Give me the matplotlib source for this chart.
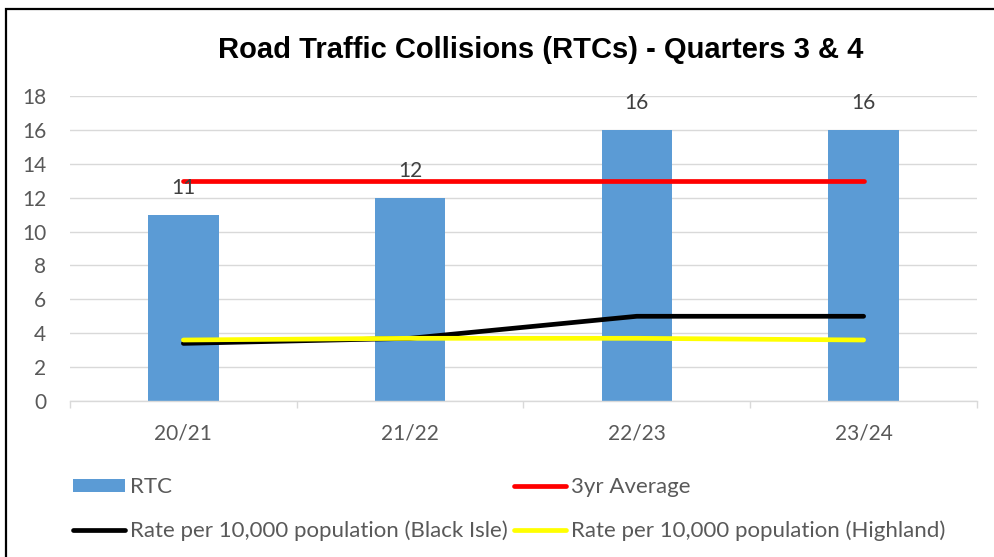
import matplotlib
matplotlib.use("Agg")
import matplotlib.pyplot as plt
from matplotlib.patches import Rectangle
from matplotlib.lines import Line2D
from matplotlib.patches import Patch

categories = ["20/21", "21/22", "22/23", "23/24"]
rtc = [11, 12, 16, 16]
avg3yr = [13, 13, 13, 13]
rate_black_isle = [3.4, 3.7, 5.0, 5.0]
rate_highland = [3.6, 3.7, 3.7, 3.6]
yticks = [0, 2, 4, 6, 8, 10, 12, 14, 16, 18]

W, H = 995, 557
fig = plt.figure(figsize=(W / 100, H / 100), dpi=100)
fig.patch.set_facecolor("white")

# outer chart border (left & top visible)
fig.patches.append(Rectangle((6 / W, -0.05), 1.2, 1 - 9 / H + 0.05, transform=fig.transFigure,
                             fill=False, edgecolor="black", linewidth=1.6))

ax = fig.add_axes([70 / W, 1 - 401 / H, (977 - 70) / W, (401 - 96) / H])
x = list(range(len(categories)))
txtc = "#595959"
lab_font = "Lato"
fs = 15

bars = ax.bar(x, rtc, width=0.31, color="#5B9BD5", zorder=2)
ax.plot(x, avg3yr, color="#FF0000", lw=3.4, solid_capstyle="round", zorder=3)
ax.plot(x, rate_black_isle, color="black", lw=3.4, solid_capstyle="round", zorder=4)
ax.plot(x, rate_highland, color="#FFFF00", lw=3.4, solid_capstyle="round", zorder=5)

for xi, v in zip(x, rtc):
    ax.annotate(str(v), (xi, v), xytext=(0, 12), textcoords="offset points",
                ha="center", va="bottom", fontsize=fs, color="#404040", family=lab_font)

ax.set_xlim(-0.5, 3.5)
ax.set_ylim(0, 18)
ax.set_yticks(yticks)
ax.set_xticks(x)
ax.set_xticklabels(categories)
ax.set_xticks([-0.5, 0.5, 1.5, 2.5, 3.5], minor=True)
ax.tick_params(axis="x", which="major", length=0, pad=16, labelsize=fs, labelcolor=txtc)
ax.tick_params(axis="x", which="minor", length=5, color="#d9d9d9", width=1)
ax.tick_params(axis="y", length=0, pad=17, labelsize=fs, labelcolor=txtc)
for lbl in ax.get_xticklabels() + ax.get_yticklabels():
    lbl.set_family(lab_font)

ax.grid(axis="y", color="#d9d9d9", lw=1, zorder=0)
ax.set_axisbelow(True)
for s in ["top", "right", "left"]:
    ax.spines[s].set_visible(False)
ax.spines["bottom"].set_color("#d9d9d9")
ax.spines["bottom"].set_linewidth(1)

fig.text(541 / W, 1 - 50 / H, "Road Traffic Collisions (RTCs) - Quarters 3 & 4",
         ha="center", va="center", fontsize=21, fontweight="bold", family="Liberation Sans")

lfs = 16
handles = [Patch(facecolor="#5B9BD5", edgecolor="none"),
           Line2D([], [], color="black", lw=3.4, solid_capstyle="round"),
           Line2D([], [], color="#FF0000", lw=3.4, solid_capstyle="round"),
           Line2D([], [], color="#FFFF00", lw=3.4, solid_capstyle="round")]
labels = ["RTC", "Rate per 10,000 population (Black Isle)", "3yr Average",
          "Rate per 10,000 population (Highland)"]
leg = fig.legend(handles, labels, ncol=2, loc="upper left", bbox_to_anchor=(73 / W, 1 - 477 / H),
                 frameon=False, borderpad=0, borderaxespad=0, handlelength=2.35, handleheight=0.53,
                 handletextpad=0.22, columnspacing=0.27, labelspacing=1.05,
                 prop={"family": lab_font, "size": lfs})
for t in leg.get_texts():
    t.set_color(txtc)

fig.savefig("out.png", dpi=100)
